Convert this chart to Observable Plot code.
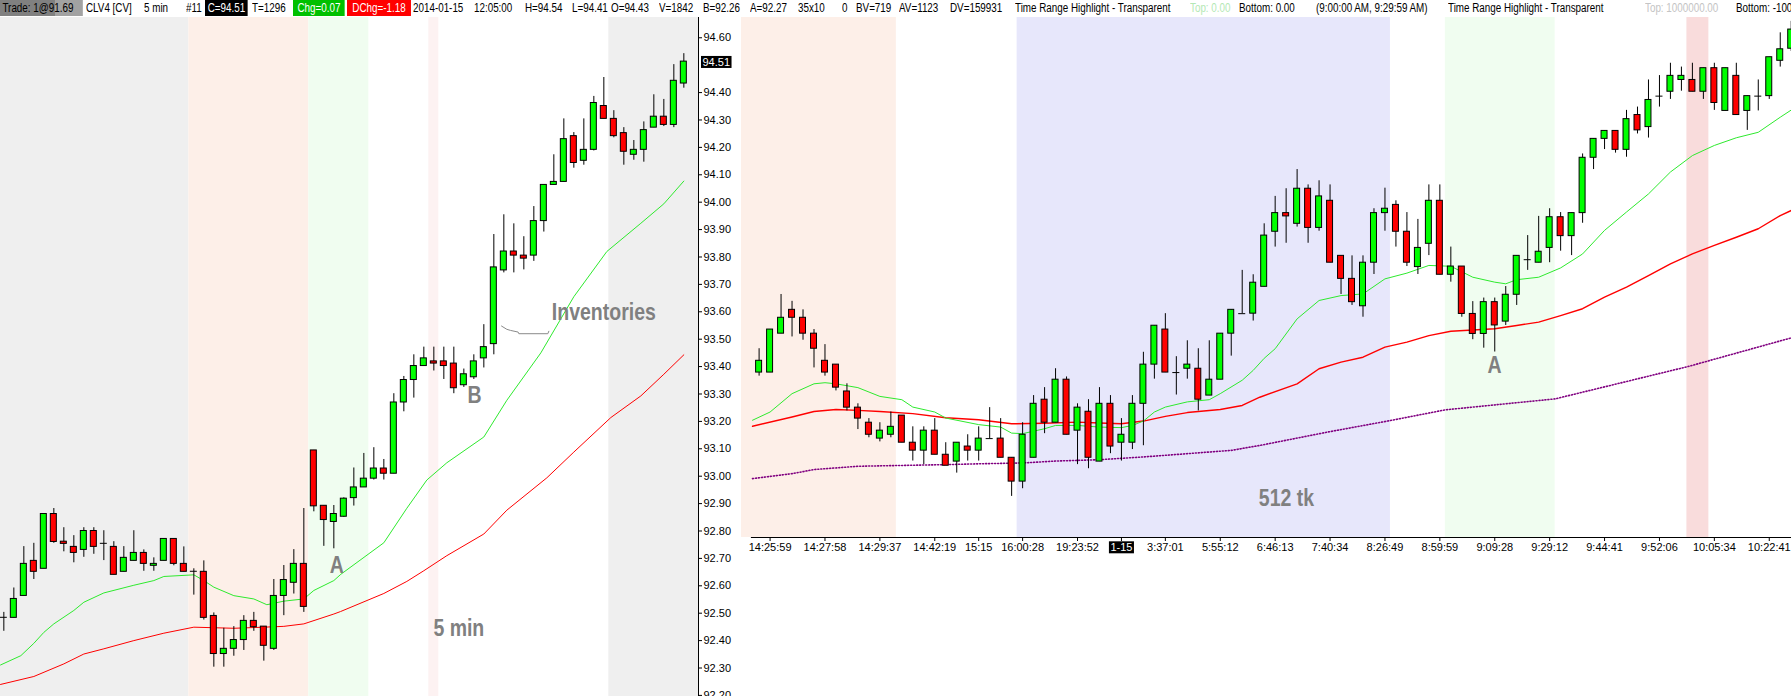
<!DOCTYPE html>
<html><head><meta charset="utf-8">
<script src="https://cdn.jsdelivr.net/npm/d3@7"></script>
<script src="https://cdn.jsdelivr.net/npm/@observablehq/plot@0.6"></script>
<style>
html,body{margin:0;padding:0;background:#fff;}
#wrap{position:relative;width:1791px;height:696px;overflow:hidden;font-family:"Liberation Sans",Arial,sans-serif;}
#hdr{position:absolute;left:0;top:0;width:1791px;height:17px;font-size:12px;white-space:nowrap;overflow:hidden;}
#hdr span{position:absolute;top:0;height:16px;line-height:16px;transform:scaleX(0.82);transform-origin:0 0;}
#charts{position:absolute;left:0;top:17px;display:flex;}
</style></head><body>
<div id="wrap"><div id="hdr"></div><div id="charts"></div></div>
<script>
// ---------- DATA ----------
// Left panel: CLV4 5 min candles (index 0..68)
const leftOpen  = [92.485,92.483,92.563,92.691,92.662,92.862,92.761,92.742,92.731,92.800,92.755,92.742,92.651,92.691,92.720,92.673,92.691,92.771,92.680,92.653,92.651,92.490,92.351,92.370,92.402,92.472,92.451,92.370,92.563,92.611,92.680,93.094,92.892,92.833,92.852,92.920,92.959,92.991,93.028,93.009,93.269,93.351,93.402,93.419,93.419,93.411,93.332,93.361,93.430,93.482,93.751,93.820,93.805,93.805,93.931,94.063,94.074,94.241,94.151,94.191,94.351,94.304,94.252,94.173,94.191,94.272,94.312,94.282,94.433];
const leftHigh  = [92.503,92.592,92.743,92.755,92.862,92.882,92.812,92.783,92.812,92.812,92.801,92.761,92.743,92.801,92.731,92.702,92.771,92.771,92.742,92.662,92.691,92.501,92.445,92.451,92.491,92.503,92.451,92.623,92.674,92.732,92.882,93.094,92.892,92.893,92.921,93.030,93.083,93.104,93.061,93.301,93.364,93.443,93.471,93.471,93.471,93.471,93.391,93.443,93.553,93.882,93.954,93.921,93.874,93.984,94.063,94.173,94.304,94.254,94.304,94.386,94.455,94.334,94.272,94.225,94.293,94.392,94.375,94.502,94.542];
const leftLow   = [92.434,92.483,92.563,92.623,92.662,92.755,92.724,92.684,92.704,92.715,92.692,92.640,92.651,92.691,92.653,92.653,92.691,92.673,92.651,92.566,92.475,92.303,92.303,92.343,92.364,92.434,92.325,92.364,92.491,92.570,92.503,92.870,92.744,92.735,92.850,92.891,92.959,92.986,92.986,93.009,93.235,93.285,93.402,93.384,93.353,93.301,93.324,93.353,93.395,93.443,93.742,93.742,93.753,93.784,93.891,94.063,94.074,94.124,94.135,94.187,94.304,94.235,94.135,94.153,94.146,94.272,94.276,94.272,94.416];
const leftClose = [92.485,92.552,92.680,92.651,92.862,92.760,92.753,92.720,92.800,92.742,92.755,92.640,92.702,92.720,92.680,92.680,92.771,92.680,92.651,92.653,92.483,92.351,92.370,92.402,92.472,92.449,92.381,92.563,92.621,92.680,92.523,92.890,92.840,92.862,92.918,92.959,92.991,93.028,93.009,93.269,93.351,93.402,93.430,93.411,93.402,93.321,93.372,93.419,93.471,93.762,93.820,93.805,93.794,93.931,94.063,94.074,94.230,94.143,94.191,94.362,94.304,94.241,94.184,94.191,94.263,94.312,94.282,94.443,94.513];

// Right panel: 512 tick candles (index 0..94)
const rightOpen  = [93.378,93.378,93.520,93.607,93.578,93.520,93.421,93.407,93.309,93.250,93.195,93.137,93.151,93.221,93.122,93.093,93.166,93.078,93.053,93.108,93.093,93.137,93.137,93.067,92.980,93.067,93.279,93.195,93.352,93.166,93.235,93.053,93.264,93.122,93.122,93.264,93.407,93.535,93.378,93.392,93.392,93.294,93.352,93.520,93.593,93.593,93.691,93.892,93.960,93.921,94.049,93.906,94.005,93.804,93.720,93.620,93.779,93.960,93.990,93.892,93.763,93.848,94.005,93.735,93.765,93.592,93.519,93.635,93.564,93.662,93.790,93.779,93.833,93.945,93.876,93.960,94.162,94.231,94.260,94.191,94.318,94.274,94.387,94.403,94.446,94.446,94.403,94.489,94.333,94.461,94.333,94.387,94.387,94.516,94.560];
const rightHigh  = [93.465,93.535,93.663,93.638,93.607,93.535,93.480,93.407,93.337,93.264,93.210,93.195,93.234,93.221,93.180,93.180,93.210,93.122,93.122,93.151,93.180,93.250,93.210,93.067,93.195,93.294,93.323,93.392,93.362,93.264,93.279,93.323,93.294,93.210,93.294,93.452,93.549,93.593,93.436,93.494,93.465,93.494,93.520,93.607,93.751,93.735,93.921,94.021,94.049,94.119,94.063,94.078,94.063,93.804,93.804,93.804,93.976,94.051,94.005,93.962,93.937,94.063,94.063,93.836,93.765,93.637,93.650,93.650,93.692,93.804,93.878,93.948,93.976,93.962,93.960,94.176,94.231,94.260,94.260,94.335,94.347,94.446,94.462,94.507,94.493,94.507,94.489,94.507,94.489,94.507,94.387,94.446,94.529,94.618,94.660];
const rightLow   = [93.365,93.378,93.520,93.508,93.496,93.395,93.365,93.311,93.238,93.170,93.140,93.125,93.140,93.122,93.055,93.042,93.078,93.038,93.011,93.055,93.055,93.137,93.067,92.926,92.954,93.067,93.155,93.195,93.151,93.042,93.027,93.053,93.082,93.055,93.097,93.111,93.354,93.378,93.296,93.354,93.238,93.294,93.352,93.438,93.593,93.566,93.691,93.836,93.850,93.909,93.850,93.894,93.779,93.663,93.623,93.580,93.736,93.894,93.836,93.765,93.736,93.805,93.735,93.708,93.580,93.498,93.467,93.453,93.550,93.623,93.751,93.779,93.779,93.821,93.805,93.923,94.119,94.192,94.179,94.164,94.249,94.234,94.347,94.375,94.405,94.403,94.375,94.335,94.333,94.318,94.262,94.333,94.375,94.493,94.550];
const rightClose = [93.421,93.535,93.578,93.578,93.520,93.465,93.378,93.323,93.250,93.210,93.151,93.166,93.180,93.122,93.093,93.166,93.078,93.038,93.122,93.093,93.137,93.137,93.067,92.980,93.151,93.264,93.195,93.352,93.151,93.250,93.067,93.264,93.108,93.151,93.264,93.407,93.549,93.378,93.378,93.407,93.279,93.352,93.520,93.607,93.593,93.706,93.878,93.960,93.948,94.049,93.906,94.021,93.779,93.720,93.635,93.779,93.960,93.976,93.892,93.779,93.833,94.005,93.735,93.765,93.592,93.519,93.635,93.550,93.662,93.804,93.790,93.819,93.945,93.876,93.960,94.162,94.231,94.260,94.191,94.303,94.262,94.373,94.387,94.461,94.461,94.403,94.489,94.362,94.489,94.318,94.387,94.387,94.529,94.558,94.630];

// Moving averages: [bar index, price]
const leftGreenMA = [[-0.33,92.311],[1.7,92.345],[3,92.39],[4,92.43],[5,92.461],[7,92.51],[8,92.54],[10,92.574],[13,92.602],[15,92.619],[16,92.634],[19,92.64],[20,92.619],[21,92.595],[23,92.564],[25,92.552],[26.3,92.531],[28,92.544],[30,92.552],[31,92.583],[33,92.619],[33.7,92.642],[38,92.757],[40.3,92.883],[42.3,92.986],[44.3,93.049],[48,93.143],[50.3,93.277],[53.7,93.45],[57,93.655],[60.3,93.82],[63.7,93.923],[66,93.994],[68,94.077]];
const leftRedMA = [[-0.33,92.24],[3,92.269],[6,92.315],[8,92.351],[10,92.37],[13,92.4],[16,92.427],[19,92.449],[23,92.445],[26,92.449],[28,92.452],[30,92.461],[33,92.497],[33.67,92.506],[38,92.572],[40.3,92.616],[42,92.655],[44.3,92.71],[48,92.789],[50.3,92.876],[54.3,92.994],[57,93.088],[60.7,93.214],[63.7,93.293],[66,93.372],[68,93.443]];
const rightGreenMA = [[-0.6,93.204],[1,93.234],[3,93.301],[5,93.337],[6,93.341],[7,93.337],[9,93.323],[11,93.291],[13,93.279],[14,93.252],[16,93.234],[17,93.212],[20,93.188],[22,93.179],[23,93.157],[24,93.155],[26,93.173],[27,93.185],[29,93.185],[31,93.179],[33,93.177],[34,93.185],[35,93.201],[36,93.234],[37,93.252],[39,93.271],[41,93.279],[42,93.301],[44,93.35],[45,93.386],[46,93.43],[47,93.465],[49,93.574],[51,93.641],[53,93.659],[55,93.665],[57,93.72],[59,93.741],[61,93.769],[63,93.766],[65,93.726],[67,93.708],[68,93.702],[69,93.717],[71,93.726],[73,93.76],[75,93.811],[77,93.897],[79,93.964],[81,94.03],[83,94.11],[85,94.17],[87,94.207],[89,94.235],[91,94.255],[93,94.31],[94.03,94.337]];
const rightRedMA = [[-0.6,93.182],[3,93.216],[5,93.236],[7,93.243],[9,93.24],[11,93.236],[14,93.228],[17,93.213],[20,93.206],[23,93.191],[26,93.193],[29,93.197],[31,93.194],[33,93.191],[35,93.201],[37,93.218],[39,93.232],[42,93.243],[44,93.258],[45.6,93.288],[49,93.337],[51,93.392],[53,93.416],[55,93.434],[57,93.471],[59,93.489],[61,93.513],[63,93.529],[67,93.538],[69,93.55],[71,93.562],[73,93.586],[75,93.611],[77,93.653],[79,93.69],[81,93.732],[83,93.775],[85,93.811],[87,93.842],[89,93.872],[91,93.903],[93,93.951],[94.03,93.97]];
const rightPurpleMA = [[-0.6,92.991],[3,93.009],[5,93.024],[9,93.036],[13,93.039],[17,93.042],[20,93.045],[24,93.048],[27,93.055],[31,93.06],[35,93.07],[39,93.082],[43,93.094],[45.6,93.112],[51.8,93.161],[57.5,93.203],[62.5,93.242],[72.5,93.282],[84.6,93.4],[94.03,93.505]];

// Time-range highlight bands (bar index boundaries) and their kind
const leftBandStart = [-1, 18.5, 30.5, 42.5, 60.5];
const leftBandEnd   = [18.5, 30.5, 36.5, 43.5, 71];
const leftBandKind  = ["outside", "pre", "open", "newsFaint", "outside"];
const rightBandStart = [-2, 23.5, 62.5, 84.5];
const rightBandEnd   = [12.5, 57.5, 72.5, 86.5];
const rightBandKind  = ["pre", "overnight", "open", "news"];

// Axis ticks
const yTicks = [92.2,92.3,92.4,92.5,92.6,92.7,92.8,92.9,93.0,93.1,93.2,93.3,93.4,93.5,93.6,93.7,93.8,93.9,94.0,94.1,94.2,94.3,94.4,94.6];
const lastPrice = [94.51];
const xTickIdx = [1,6,11,16,20,24,29,33,37,42,47,52,57,62,67,72,77,82,87,92];
const xTickLabels = ["14:25:59","14:27:58","14:29:37","14:42:19","15:15","16:00:28","19:23:52","1-15","3:37:01","5:55:12","6:46:13","7:40:34","8:26:49","8:59:59","9:09:28","9:29:12","9:44:41","9:52:06","10:05:34","10:22:41"];

// Annotations
const leftNoteText = ["Inventories", "B", "A", "5 min"];
const leftNoteX = [60.0, 47.07, 33.3, 45.5];
const leftNoteY = [93.599, 93.295, 92.674, 92.446];
const leaderX = [49.77, 50.3, 50.67, 51.43, 51.5, 54.4, 54.5];
const leaderY = [93.548, 93.536, 93.532, 93.526, 93.520, 93.520, 93.529];
const rightNoteText = ["A", "512 tk"];
const rightNoteX = [66.97, 48.03];
const rightNoteY = [93.402, 92.920];

// Header strip
const hdrText = ["Trade: 1@91.69","CLV4 [CV]","5 min","#11","C=94.51","T=1296","Chg=0.07","DChg=-1.18","2014-01-15","12:05:00","H=94.54","L=94.41","O=94.43","V=1842","B=92.26","A=92.27","35x10","0","BV=719","AV=1123","DV=159931","Time Range Highlight - Transparent","Top: 0.00","Bottom: 0.00","(9:00:00 AM, 9:29:59 AM)","Time Range Highlight - Transparent","Top: 1000000.00","Bottom: -1000000.00"];

// ---------- LAYOUT / STYLE ----------
const hdrLeft = [0,86,144,186,205,252,293,347,413,474,525,572,611,659,703,750,798,842,856,899,950,1015,1190,1239,1316,1448,1645,1736];
const hdrStyle = {
  0: {background: "linear-gradient(to right,#808080 0,#808080 67px,#a2a2a2 67px)", padding: "0 0 0 3px", width: "98px"},
  4: {background: "#000", color: "#fff", padding: "0 3.3px"},
  6: {background: "#00c000", color: "#fff", padding: "0 5.5px"},
  7: {background: "#ff0000", color: "#fff", padding: "0 6.5px"},
  22: {color: "#b4e8b4"},
  26: {color: "#c4c4c4"}
};
const bandColor = {outside: "#efefef", pre: "#fdefe8", open: "#f0fdf0", newsFaint: "#fdf2f2", overnight: "#e7e7fb", news: "#f9dcdc"};

const hdr = d3.select("#hdr");
hdrText.forEach((t, k) => {
  const s = hdr.append("span").text(t).style("left", hdrLeft[k] + "px");
  if (hdrStyle[k]) Object.entries(hdrStyle[k]).forEach(([a, b]) => s.style(a, b));
});

const toCandles = (O, H, L, C) => O.map((o, i) => ({i, o, h: H[i], l: L[i], c: C[i]}));
const leftCandles = toCandles(leftOpen, leftHigh, leftLow, leftClose);
const rightCandles = toCandles(rightOpen, rightHigh, rightLow, rightClose);
const bands = (S, E, K) => S.map((s, k) => ({s, e: E[k], kind: K[k]}));
const notes = (T, X, Y) => T.map((t, k) => ({t, x: X[k], y: Y[k]}));

function candleMarks(data, inset, half) {
  const up = data.filter(d => d.c > d.o), dn = data.filter(d => d.c < d.o), dj = data.filter(d => d.c === d.o);
  const body = {x1: d => d.i - 0.5, x2: d => d.i + 0.5, y1: "o", y2: "c", insetLeft: inset, insetRight: inset, stroke: "#000", strokeWidth: 1, clip: true};
  return [
    Plot.ruleX(data, {x: "i", y1: "l", y2: "h", stroke: "#000", strokeWidth: 1, clip: true}),
    Plot.rect(up, {...body, fill: "#00ff00"}),
    Plot.rect(dn, {...body, fill: "#ff0000"}),
    Plot.ruleY(dj, {y: "o", x1: d => d.i - half, x2: d => d.i + half, stroke: "#000", strokeWidth: 1, clip: true})
  ];
}
function bandMarks(list) {
  return Object.keys(bandColor).map(kind =>
    Plot.rect(list.filter(b => b.kind === kind), {x1: "s", x2: "e", fill: bandColor[kind], clip: true}));
}
const noteStyle = {x: "x", y: "y", text: "t", fill: "#808080", fontSize: 19.5, fontWeight: "bold", fontFamily: '"Liberation Sans",Arial,sans-serif'};
const baseStyle = {fontFamily: '"Liberation Sans",Arial,sans-serif', fontSize: "11px", color: "#000", background: "transparent", maxWidth: "none", display: "block"};

const xDomLeft = [-0.333, 69.467], yDomLeft = [92.196, 94.674];
const xDomRight = [-1.603, 94.026], yDomRight = [92.776, 94.674];
const rightStart = -0.7;

const leftPlot = Plot.plot({
  width: 741, height: 679, marginLeft: 0, marginRight: 43, marginTop: 0, marginBottom: 0,
  style: baseStyle,
  x: {domain: xDomLeft, axis: null},
  y: {domain: yDomLeft, axis: "right", ticks: yTicks, tickFormat: d => d.toFixed(2), tickSize: 3, tickPadding: 2, label: null},
  marks: [
    ...bandMarks(bands(leftBandStart, leftBandEnd, leftBandKind)),
    Plot.line(leftGreenMA, {x: d => d[0], y: d => d[1], stroke: "#2eea2e", strokeWidth: 1, clip: true}),
    Plot.line(leftRedMA, {x: d => d[0], y: d => d[1], stroke: "#ff0000", strokeWidth: 1, clip: true}),
    ...candleMarks(leftCandles, 2, 0.35),
    Plot.line(leaderX.map((x, k) => [x, leaderY[k]]), {x: d => d[0], y: d => d[1], stroke: "#8a8a8a", strokeWidth: 1}),
    Plot.text(notes(leftNoteText, leftNoteX, leftNoteY), noteStyle),
    Plot.ruleX([xDomLeft[1]], {stroke: "#000", strokeWidth: 1}),
    Plot.text(lastPrice, {y: d => d, text: d => d.toFixed(2), frameAnchor: "right", dx: 4, textAnchor: "start", fill: "#fff"})
  ]
});

const rightPlot = Plot.plot({
  width: 1050, height: 679, marginLeft: 0, marginRight: 0, marginTop: 0, marginBottom: 159,
  style: baseStyle,
  x: {domain: xDomRight, ticks: xTickIdx, tickFormat: d => xTickLabels[xTickIdx.indexOf(d)], tickSize: 4, tickPadding: 2, label: null},
  y: {domain: yDomRight, axis: null},
  marks: [
    ...bandMarks(bands(rightBandStart, rightBandEnd, rightBandKind)),
    Plot.line(rightPurpleMA, {x: d => d[0], y: d => d[1], stroke: "#800080", strokeWidth: 1.6, strokeDasharray: "1,2", clip: true}),
    Plot.line(rightRedMA, {x: d => d[0], y: d => d[1], stroke: "#ff0000", strokeWidth: 1.4, clip: true}),
    Plot.line(rightGreenMA, {x: d => d[0], y: d => d[1], stroke: "#2eea2e", strokeWidth: 1, clip: true}),
    ...candleMarks(rightCandles, 2.5, 0.32),
    Plot.text(notes(rightNoteText, rightNoteX, rightNoteY), noteStyle),
    Plot.ruleY([yDomRight[0]], {x1: rightStart, x2: xDomRight[1], stroke: "#000", strokeWidth: 1})
  ]
});

const charts = document.getElementById("charts");
charts.appendChild(leftPlot);
charts.appendChild(rightPlot);

// black label boxes (current price, date change)
function boxLabel(svg, label, padX) {
  d3.select(svg).selectAll("text").filter(function () { return this.textContent === label; }).each(function () {
    const b = this.getBBox();
    const r = document.createElementNS("http://www.w3.org/2000/svg", "rect");
    r.setAttribute("x", b.x - padX); r.setAttribute("y", b.y);
    r.setAttribute("width", b.width + 2 * padX); r.setAttribute("height", b.height);
    r.setAttribute("fill", "#000");
    if (this.getAttribute("transform")) r.setAttribute("transform", this.getAttribute("transform"));
    this.parentNode.insertBefore(r, this);
    this.setAttribute("fill", "#fff");
  });
}
boxLabel(leftPlot, "94.51", 1.5);
boxLabel(rightPlot, "1-15", 1.5);

// tall, narrow lettering of the annotations
function stretch(svg, labels, sy) {
  d3.select(svg).selectAll("text").filter(function () { return labels.includes(this.textContent); }).each(function () {
    const t = this.getAttribute("transform");
    if (t) {
      this.setAttribute("transform", `${t} scale(1,${sy})`);
    } else {
      const x = +this.getAttribute("x") || 0, y = +this.getAttribute("y") || 0;
      this.setAttribute("x", 0); this.setAttribute("y", 0);
      this.setAttribute("transform", `translate(${x},${y}) scale(1,${sy})`);
    }
  });
}
stretch(leftPlot, leftNoteText, 1.2);
stretch(rightPlot, rightNoteText, 1.2);
</script>
</body></html>
